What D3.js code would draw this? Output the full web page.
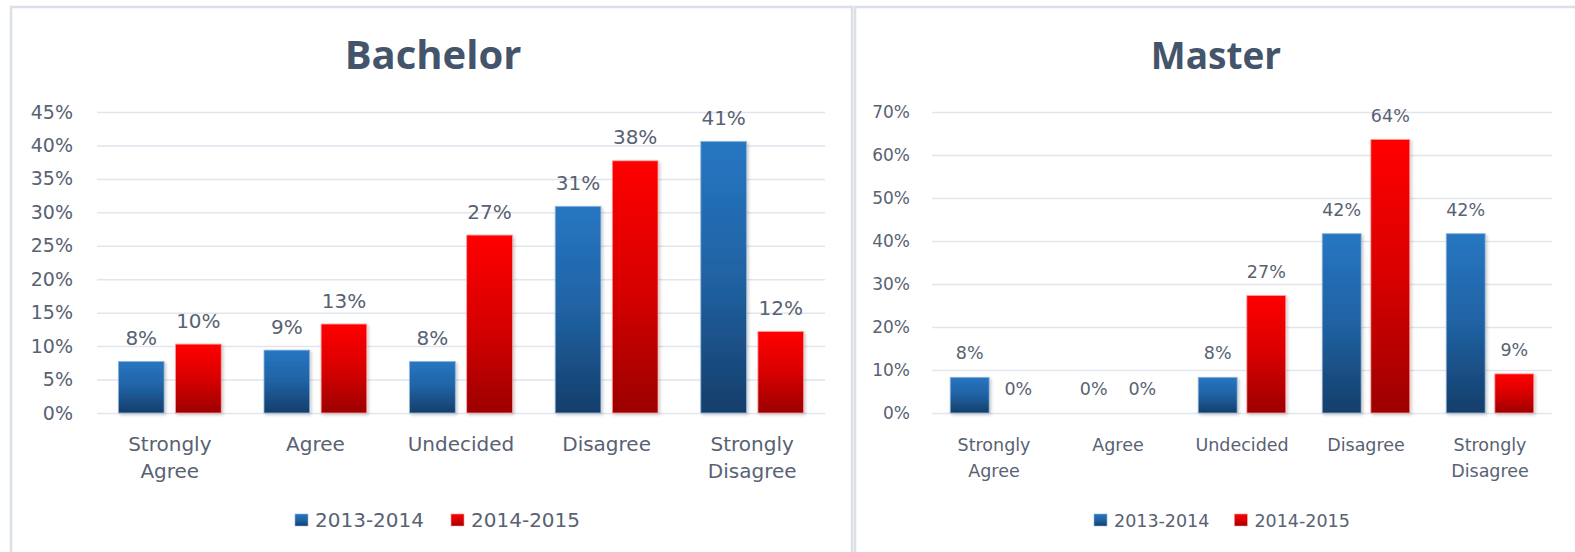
<!DOCTYPE html>
<html>
<head>
<meta charset="utf-8">
<script src="https://cdn.jsdelivr.net/npm/d3@7"></script>
<style>
  html, body { margin: 0; padding: 0; background: #ffffff; }
  svg { display: block; }
</style>
</head>
<body>
<svg id="chart" width="1575" height="552"></svg>
<script>
// ---------- DATA ----------
const categories = ["Strongly Agree", "Agree", "Undecided", "Disagree", "Strongly Disagree"];
const seriesNames = ["2013-2014", "2014-2015"];

const bachelor2013 = [0.077, 0.094, 0.077, 0.309, 0.406];
const bachelor2014 = [0.103, 0.133, 0.266, 0.377, 0.122];
const bachelorTicks = [0, 0.05, 0.10, 0.15, 0.20, 0.25, 0.30, 0.35, 0.40, 0.45];

const master2013 = [0.083, 0, 0.083, 0.417, 0.417];
const master2014 = [0, 0, 0.273, 0.636, 0.091];
const masterTicks = [0, 0.10, 0.20, 0.30, 0.40, 0.50, 0.60, 0.70];

// ---------- DRAWING ----------
const svg = d3.select("#chart");
svg.append("rect").attr("width", 1575).attr("height", 552).attr("fill", "#fff");

const defs = svg.append("defs");
function grad(id, stops) {
  const g = defs.append("linearGradient").attr("id", id)
    .attr("x1", 0).attr("y1", 0).attr("x2", 0).attr("y2", 1);
  stops.forEach(s => g.append("stop").attr("offset", s[0]).attr("stop-color", s[1]));
}
grad("gBlue", [["0%", "#2776c2"], ["50%", "#2062a3"], ["100%", "#153e6a"]]);
grad("gRed", [["0%", "#ff0000"], ["50%", "#d80000"], ["100%", "#9c0000"]]);
const f = defs.append("filter").attr("id", "shadow").attr("x", "-20%").attr("y", "-20%").attr("width", "140%").attr("height", "140%");
f.append("feDropShadow").attr("dx", 1.5).attr("dy", 1.5).attr("stdDeviation", 1.5)
  .attr("flood-color", "#000").attr("flood-opacity", 0.22);

const fills = ["url(#gBlue)", "url(#gRed)"];
const strokes = ["#8fb4dc", "#ff9a9a"];
const textColor = "#586273";
const fmt = d3.format(".0%");

// panel borders
svg.append("rect").attr("x", 11).attr("y", 7).attr("width", 841).attr("height", 560)
  .attr("fill", "none").attr("stroke", "#dadfe8").attr("stroke-width", 2.5);
svg.append("rect").attr("x", 855).attr("y", 7).attr("width", 740).attr("height", 560)
  .attr("fill", "none").attr("stroke", "#dadfe8").attr("stroke-width", 2.5);

function drawChart(cfg, s1, s2, ticks) {
  const g = svg.append("g");
  const x = d3.scaleBand().domain(categories).range([cfg.plotLeft, cfg.plotRight]).padding(0);
  const y = d3.scaleLinear().domain([0, ticks[ticks.length - 1]]).range([cfg.y0, cfg.yTop]);
  const gp = 0.147;
  const xs = d3.scaleBand().domain([0, 1])
    .range([x.bandwidth() * gp, x.bandwidth() * (1 - gp)]).paddingInner(0.2).paddingOuter(0);

  // title
  g.append("text").attr("x", cfg.titleX).attr("y", cfg.titleY)
    .attr("text-anchor", "middle")
    .style("font-family", "'Open Sans', sans-serif").style("font-weight", 700)
    .style("font-size", cfg.titleSize + "px").attr("fill", "#44546a")
    .text(cfg.title);

  // y axis + gridlines
  const ya = g.append("g").attr("transform", `translate(${cfg.plotLeft},0)`)
    .call(d3.axisLeft(y).tickValues(ticks).tickFormat(fmt)
      .tickSize(-(cfg.plotRight - cfg.plotLeft)).tickPadding(cfg.tickPad));
  ya.select(".domain").remove();
  ya.selectAll(".tick line").attr("stroke", "#e1e5ed").attr("stroke-width", 1.5);
  ya.selectAll(".tick text").attr("fill", textColor)
    .style("font-family", "'DejaVu Sans', sans-serif").style("font-size", cfg.tickFont + "px");

  // bars
  const data = [];
  categories.forEach((c, i) => {
    data.push({ c, s: 0, v: s1[i] });
    data.push({ c, s: 1, v: s2[i] });
  });
  g.selectAll("rect.bar").data(data.filter(d => d.v > 0)).join("rect")
    .attr("class", "bar")
    .attr("x", d => x(d.c) + xs(d.s))
    .attr("width", xs.bandwidth())
    .attr("y", d => y(d.v))
    .attr("height", d => y(0) - y(d.v))
    .attr("fill", d => fills[d.s])
    .attr("stroke", d => strokes[d.s]).attr("stroke-width", 0.8)
    .attr("filter", "url(#shadow)");

  // value labels
  g.selectAll("text.val").data(data).join("text")
    .attr("class", "val")
    .attr("x", d => x(d.c) + xs(d.s) + xs.bandwidth() / 2)
    .attr("y", d => y(d.v) - cfg.labelOffset)
    .attr("text-anchor", "middle").attr("fill", textColor)
    .style("font-family", "'DejaVu Sans', sans-serif").style("font-size", cfg.fontSize + "px")
    .text(d => fmt(d.v));

  // category axis
  const xa = g.append("g").attr("transform", `translate(0,${cfg.y0})`)
    .call(d3.axisBottom(x).tickSize(0));
  xa.select(".domain").remove();
  xa.selectAll(".tick text").each(function (d) {
    const t = d3.select(this);
    const words = d.split(" ");
    t.text(null).attr("y", 0).attr("dy", null).attr("fill", textColor)
      .style("font-family", "'DejaVu Sans', sans-serif").style("font-size", cfg.fontSize + "px");
    words.forEach((w, k) => {
      t.append("tspan").attr("x", 0).attr("y", cfg.catLine1 + k * cfg.lineH).text(w);
    });
  });

  // legend
  const lg = g.append("g");
  let cx = cfg.legendX;
  seriesNames.forEach((name, i) => {
    lg.append("rect").attr("x", cx).attr("y", cfg.legendY - 13).attr("width", 13).attr("height", 12)
      .attr("fill", fills[i]).attr("stroke", strokes[i]).attr("stroke-width", 0.6);
    const t = lg.append("text").attr("x", cx + 20).attr("y", cfg.legendY)
      .attr("fill", textColor)
      .style("font-family", "'DejaVu Sans', sans-serif").style("font-size", cfg.fontSize + "px")
      .text(name);
    cx += 20 + t.node().getComputedTextLength() + cfg.legendGap;
  });
}

drawChart({
  title: "Bachelor", titleX: 433, titleY: 69, titleSize: 40,
  plotLeft: 97, plotRight: 825, y0: 413, yTop: 112,
  tickPad: 24, tickFont: 19, fontSize: 20, labelOffset: 16.5,
  catLine1: 38, lineH: 27, legendX: 295, legendY: 527, legendGap: 27
}, bachelor2013, bachelor2014, bachelorTicks);

drawChart({
  title: "Master", titleX: 1216, titleY: 68.5, titleSize: 37,
  plotLeft: 932, plotRight: 1552, y0: 413, yTop: 112,
  tickPad: 22, tickFont: 17, fontSize: 17.5, labelOffset: 18,
  catLine1: 38, lineH: 26, legendX: 1094, legendY: 527, legendGap: 25
}, master2013, master2014, masterTicks);
</script>
</body>
</html>
